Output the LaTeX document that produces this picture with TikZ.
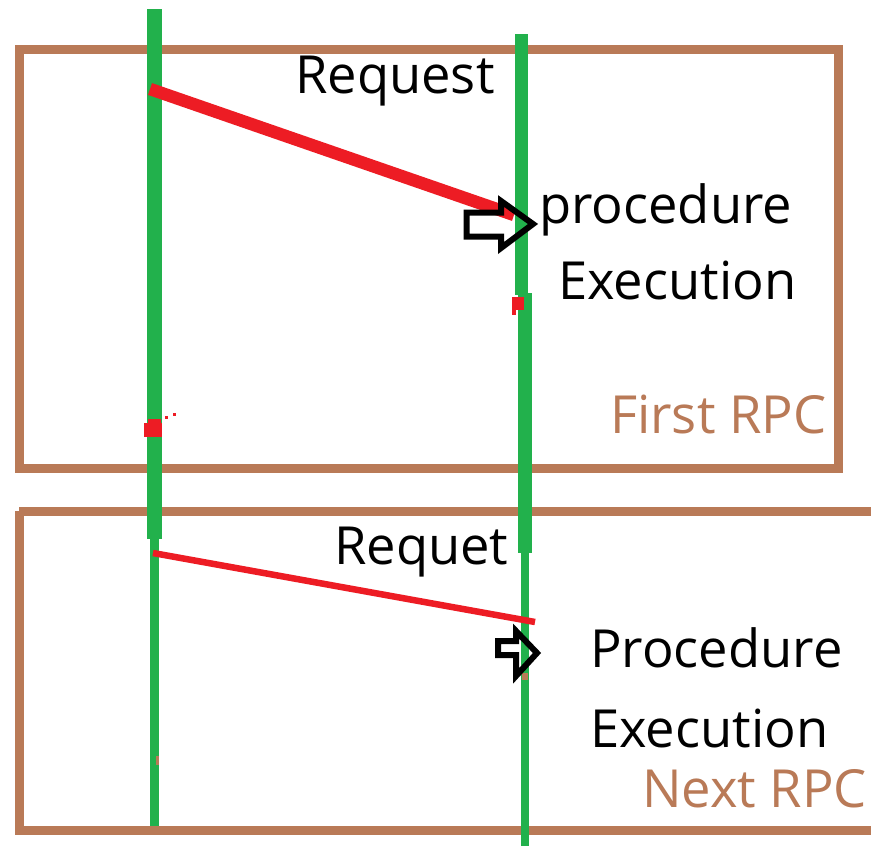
\documentclass[tikz,border=0pt]{standalone}
\usepackage{fontspec}
\setmainfont{Open Sans}
\definecolor{lifegreen}{HTML}{22B14C}
\definecolor{msgred}{HTML}{ED1C24}
\definecolor{framebrown}{HTML}{B97A57}
\tikzset{
  lifeline/.style={draw=lifegreen, line cap=butt},
  msg/.style={draw=msgred, line cap=butt},
  frame/.style={draw=framebrown, line width=9pt},
  hollowarrow/.style={draw=black, line width=6pt, line join=miter},
  lbl/.style={anchor=base west, inner sep=0pt, font=\fontsize{52.5}{60}\selectfont},
  framelbl/.style={lbl, text=framebrown},
  blob/.style={fill=msgred, draw=none},
}
\begin{document}
\begin{tikzpicture}[x=1pt, y=-1pt]
  \useasboundingbox (0,0) rectangle (871,846);
  \clip (0,0) rectangle (871,846);
  \fill[white] (0,0) rectangle (871,846);

  % frames around the two calls
  \draw[frame] (19,49.5) rectangle (838,468);
  \draw[frame] (19,511) -- (880,511);
  \draw[frame] (19,511) -- (19,830) -- (880,830);

  % client lifeline
  \coordinate (c0) at (154.5,9);
  \coordinate (c1) at (154.5,539);
  \coordinate (c2) at (154.5,826);
  \draw[lifeline, line width=15pt] (c0) -- (c1);
  \draw[lifeline, line width=9pt] (c1) -- (c2);

  % server lifeline
  \coordinate (s0) at (521.5,34);
  \coordinate (s1) at (521.5,295);
  \coordinate (s2) at (525,293);
  \coordinate (s3) at (525,553);
  \coordinate (s4) at (525,553);
  \coordinate (s5) at (525,846);
  \draw[lifeline, line width=13pt] (s0) -- (s1);
  \draw[lifeline, line width=14pt] (s2) -- (s3);
  \draw[lifeline, line width=8pt] (s4) -- (s5);

  % request messages
  \coordinate (r1a) at (150,89);
  \coordinate (r1b) at (514,215);
  \draw[msg, line width=12.5pt] (r1a) -- (r1b);
  \coordinate (r2a) at (153,553);
  \coordinate (r2b) at (535,622);
  \draw[msg, line width=6.5pt] (r2a) -- (r2b);

  % stray paint marks
  \fill[blob] (144,423) rectangle (162,437);
  \fill[blob] (148,419) rectangle (161,425);
  \fill[blob] (165,416) rectangle (168,419);
  \fill[blob] (173,413) rectangle (176,416);
  \fill[blob] (512,297) rectangle (524,310);
  \fill[blob] (512,309) rectangle (516,315);
  \fill[framebrown] (522,673) rectangle (528,680);
  \fill[framebrown] (156,756) rectangle (159,765);

  % hollow arrows marking procedure execution
  \draw[hollowarrow] (466.5,212.5) -- (501,212.5) -- (501,201) -- (533,224)
        -- (501,248) -- (501,236.5) -- (466.5,236.5) -- cycle;
  \draw[hollowarrow] (498,641) -- (516,641) -- (516,631) -- (537,653)
        -- (516,676) -- (516,655) -- (498,655) -- cycle;

  % labels
  \node[lbl] (req1) at (295,93) {Request};
  \node[lbl] (proc1) at (539,223) {procedure};
  \node[lbl] (exec1) at (558,299) {Execution};
  \node[framelbl] (first) at (610,433) {First RPC};
  \node[lbl] (req2) at (334,564) {Requet};
  \node[lbl] (proc2) at (590,667) {Procedure};
  \node[lbl] (exec2) at (590,747) {Execution};
  \node[framelbl] (next) at (642,807) {Next RPC};
\end{tikzpicture}
\end{document}
